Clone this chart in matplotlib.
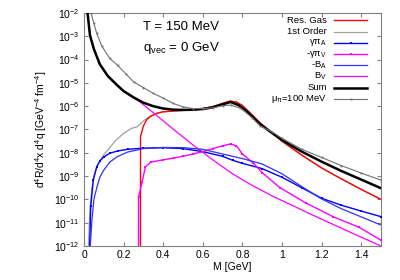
import numpy as np
import matplotlib
matplotlib.use("Agg")
import matplotlib.pyplot as plt

plt.rcParams['font.family'] = ['Liberation Sans', 'DejaVu Sans']
plt.rcParams['mathtext.fontset'] = 'custom'
plt.rcParams['mathtext.rm'] = 'Liberation Sans'
plt.rcParams['mathtext.it'] = 'Liberation Sans'

# --- data (M in GeV, values as log10 of the rate) ---
m_res = [0.285, 0.2855, 0.30, 0.315, 0.333, 0.37, 0.40, 0.50, 0.57, 0.65, 0.70, 0.737, 0.77, 0.80,
         0.85, 0.89, 0.95, 1.00, 1.10, 1.20, 1.30, 1.40, 1.50]
res_gas = [-14, -7.3, -6.85, -6.6, -6.45, -6.3, -6.24, -6.18, -6.15, -6.02, -5.88, -5.78, -5.82, -5.97,
           -6.38, -6.72, -7.15, -7.5, -8.1, -8.65, -9.12, -9.57, -10.0]

m_first = [0.02, 0.03, 0.04, 0.05, 0.07, 0.10, 0.13, 0.16, 0.20, 0.24, 0.27, 0.30, 0.33, 0.36, 0.40,
           0.50, 0.57, 0.65, 0.70, 0.737, 0.77, 0.80, 0.85, 0.89, 0.95, 1.00, 1.10, 1.20, 1.30, 1.40, 1.50]
first_order = [-12.5, -10.4, -9.5, -9.0, -8.5, -8.08, -7.78, -7.47, -7.17, -6.95, -6.88, -6.63, -6.45,
               -6.32, -6.24, -6.18, -6.15, -6.02, -5.88, -5.78, -5.82, -5.97, -6.38, -6.72, -7.15, -7.5,
               -8.1, -8.65, -9.12, -9.57, -10.0]

m_gpa = [0.028, 0.034, 0.047, 0.064, 0.081, 0.10, 0.13, 0.17, 0.22, 0.30, 0.40, 0.50, 0.60, 0.70,
         0.75, 0.80, 0.90, 1.00, 1.10, 1.20, 1.30, 1.40, 1.50]
gamma_pi_a = [-12.2, -10.3, -9.17, -8.6, -8.34, -8.18, -8.02, -7.92, -7.85, -7.8, -7.78, -7.82, -7.95,
              -8.15, -8.32, -8.45, -8.68, -9.05, -9.5, -9.95, -10.25, -10.5, -10.74]

m_gpv = [0.275, 0.2755, 0.294, 0.31, 0.337, 0.40, 0.455, 0.50, 0.55, 0.60, 0.65, 0.70, 0.74, 0.77,
         0.80, 0.855, 0.90, 0.99, 1.12, 1.26, 1.39, 1.50]
gamma_pi_v = [-14, -9.88, -9.24, -8.6, -8.4, -8.3, -8.22, -8.15, -8.05, -7.95, -7.82, -7.7, -7.62, -7.7,
              -8.05, -8.44, -8.85, -9.5, -10.15, -10.75, -11.2, -11.75]

m_ba = [0.03, 0.04, 0.05, 0.066, 0.08, 0.10, 0.13, 0.167, 0.22, 0.30, 0.40, 0.50, 0.60, 0.70, 0.80,
        0.90, 1.00, 1.10, 1.20, 1.30, 1.40, 1.50]
minus_b_a = [-12.2, -10.9, -10.0, -9.45, -9.05, -8.74, -8.4, -8.17, -7.97, -7.82, -7.77, -7.78, -7.85,
             -8.05, -8.25, -8.48, -8.9, -9.45, -9.98, -10.4, -10.75, -11.1]

m_bv = [0.018, 0.03, 0.05, 0.08, 0.12, 0.165, 0.20, 0.25, 0.28, 0.35, 0.45, 0.55, 0.65, 0.75, 0.85,
        0.95, 1.05, 1.20, 1.35, 1.50]
b_v = [-2.0, -2.97, -3.57, -4.22, -4.72, -5.1, -5.37, -5.64, -5.8, -6.28, -6.98, -7.66, -8.3, -8.9,
       -9.4, -9.85, -10.25, -10.85, -11.43, -12.0]

m_sum = [0.018, 0.03, 0.05, 0.08, 0.12, 0.165, 0.20, 0.25, 0.30, 0.35, 0.40, 0.45, 0.50, 0.55, 0.60,
         0.65, 0.70, 0.74, 0.78, 0.82, 0.85, 0.89, 0.95, 1.00, 1.10, 1.20, 1.30, 1.40, 1.50]
total = [-2.0, -2.95, -3.55, -4.2, -4.7, -5.08, -5.35, -5.62, -5.85, -6.0, -6.1, -6.15, -6.16, -6.15,
         -6.12, -6.05, -5.92, -5.82, -5.95, -6.2, -6.45, -6.78, -7.15, -7.45, -7.95, -8.38, -8.78,
         -9.15, -9.52]

m_mu = [0.035, 0.05, 0.064, 0.09, 0.13, 0.17, 0.21, 0.25, 0.30, 0.35, 0.40, 0.45, 0.50, 0.55, 0.60,
        0.65, 0.70, 0.74, 0.79, 0.85, 0.89, 0.95, 1.00, 1.10, 1.20, 1.30, 1.40, 1.50]
mu_pi = [-2.0, -2.45, -2.87, -3.42, -3.95, -4.25, -4.6, -4.95, -5.2, -5.45, -5.65, -5.88, -6.03, -6.1,
         -6.1, -6.07, -5.98, -5.95, -6.08, -6.5, -6.85, -7.1, -7.38, -7.85, -8.2, -8.55, -8.87, -9.17]

labels = ['Res. Gas', '1st Order', r'$\gamma\pi_A$', r'-$\gamma\pi_V$', r'-B$_A$', r'B$_V$', 'Sum',
          r'$\mu_\pi$=100 MeV']


def lin(v):
    return 10.0 ** np.array(v)


fig = plt.figure(figsize=(4, 2.8), dpi=100)
ax = fig.add_axes([0.21, 0.1214, 0.7425, 0.8322])

styles = [
    (m_res, res_gas, dict(color='#ff0000', lw=1.0, zorder=3)),
    (m_first, first_order, dict(color='#a0a0a0', lw=0.9, zorder=2)),
    (m_gpa, gamma_pi_a, dict(color='#0000ff', lw=1.0, marker='s', ms=1.6, mew=0, zorder=4)),
    (m_gpv, gamma_pi_v, dict(color='#ff00ff', lw=1.0, marker='s', ms=1.6, mew=0, zorder=4)),
    (m_ba, minus_b_a, dict(color='#3030ff', lw=0.9, zorder=4)),
    (m_bv, b_v, dict(color='#ff00ff', lw=0.9, zorder=3)),
    (m_sum, total, dict(color='black', lw=1.8, zorder=5)),
    (m_mu, mu_pi, dict(color='#707070', lw=0.8, marker='s', ms=1.3, mew=0, zorder=5)),
]

# legend drawn by hand, gnuplot style: text right aligned, sample to the right
tx = (327 - 84) / 297
lx0, lx1 = (334 - 84) / 297, (367 - 84) / 297
for i, (mx, vals, kw) in enumerate(styles):
    ax.plot(mx, lin(vals), **kw)
    yy = (246 - (20.5 + i * 11.2)) / 233
    samp = dict(kw)
    samp.pop('zorder')
    ax.plot([lx0, (lx0 + lx1) / 2, lx1], [yy, yy, yy], transform=ax.transAxes, clip_on=False,
            markevery=[1], **samp)
    ax.text(tx, yy, labels[i], transform=ax.transAxes, ha='right', va='center', fontsize=6.8)

ax.set_yscale('log')
ax.set_xlim(0, 1.5)
ax.set_ylim(1e-12, 1e-2)
ax.set_xticks(np.arange(0, 1.41, 0.2))
ax.set_xticklabels(['0', '0.2', '0.4', '0.6', '0.8', '1', '1.2', '1.4'])
ax.set_yticks([10.0 ** k for k in range(-12, -1)])
ax.minorticks_off()
ax.tick_params(direction='in', top=True, right=True, labelsize=7.5, length=3, color='#808080',
               pad=3)
for s in ax.spines.values():
    s.set_color('#808080')
    s.set_linewidth(0.8)

ax.set_xlabel('M [GeV]', fontsize=7.5, labelpad=1)
ax.set_ylabel(r'd$^4$R/d$^4$x d$^4$q [GeV$^{-4}$ fm$^{-4}$]', fontsize=7.5, labelpad=4)

ax.text(0.2, 0.927, 'T = 150 MeV', transform=ax.transAxes, fontsize=9.5)
ax.text(0.2, 0.837, r'q$_{\rm vec}$ = 0 GeV', transform=ax.transAxes, fontsize=9.5)

fig.savefig('out.png', dpi=100)
